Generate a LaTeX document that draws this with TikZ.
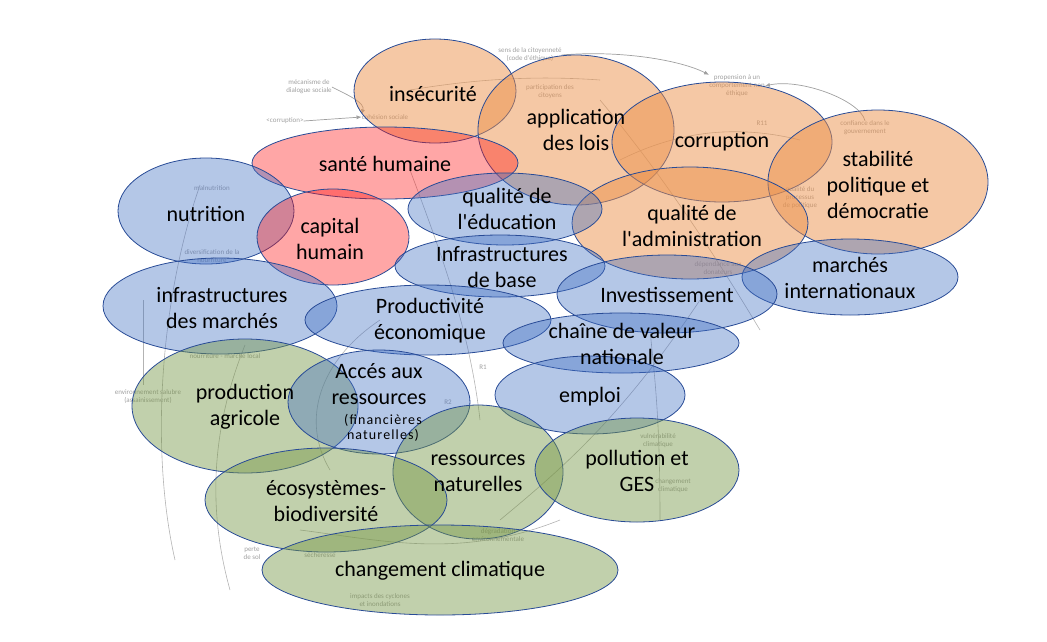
\documentclass[tikz,border=0pt]{standalone}
\usepackage{fontspec}
\setmainfont{Carlito}
\usetikzlibrary{arrows.meta}
\definecolor{orA}{RGB}{235,145,75}
\definecolor{blA}{RGB}{68,114,196}
\definecolor{rdA}{RGB}{255,20,20}
\definecolor{grA}{RGB}{118,150,70}
\definecolor{edgeA}{RGB}{40,75,150}
\definecolor{bgA}{RGB}{160,160,160}
\newcommand{\qs}{\textquotesingle}
\tikzset{
  zone/.style={draw=edgeA,line width=0.8pt,fill opacity=0.5},
  zor/.style={zone,fill=orA,fill opacity=0.5},
  zbl/.style={zone,fill=blA,fill opacity=0.4},
  zrd/.style={zone,fill=rdA,fill opacity=0.38},
  zgr/.style={zone,fill=grA,fill opacity=0.45},
  lab/.style={font=\fontsize{22}{26}\selectfont,align=center,text=black,inner sep=0pt},
  sml/.style={font=\fontsize{14}{15}\selectfont\addfontfeature{LetterSpace=8},align=center,text=black,inner sep=0pt},
  bgt/.style={font=\fontsize{7}{8}\selectfont,text=bgA,align=center,inner sep=0pt},
  bgl/.style={draw=bgA,line width=0.7pt,-{Latex[length=5pt,width=4pt]}},
  bgc/.style={draw=bgA!80,line width=0.6pt}
}
\begin{document}
\begin{tikzpicture}[x=1pt,y=-1pt]
\useasboundingbox (0,0) rectangle (1047,641);
% faint background causal diagram
\node[bgt] (t1) at (530,55) {sens de la citoyenneté\\(code d\qs éthique)};
\node[bgt] (t2) at (737,86) {propension à un\\comportement non\\éthique};
\node[bgt] (t3) at (309,87) {mécanisme de\\dialogue sociale};
\node[bgt] (t4) at (285,121) {<corruption>};
\node[bgt] (t5) at (385,117) {cohésion sociale};
\node[bgt] (t6) at (865,128) {confiance dans le\\gouvernement};
\node[bgt] (t7) at (148,397) {environnement salubre\\(assainissement)};
\node[bgt] (t8) at (380,600) {impacts des cyclones\\et inondations};
\node[bgt] (t9) at (252,553) {perte\\de sol};
\node[bgt] (t10) at (658,441) {vulnérabilité\\climatique};
\node[bgt] (t11) at (673,486) {changement\\climatique};
\node[bgt] (t12) at (212,188) {malnutrition};
\node[bgt] (t13) at (212,256) {diversification de la\\nourriture};
\node[bgt] (t14) at (225,356) {nourriture - marché local};
\node[bgt] (t15) at (550,92) {participation des\\citoyens};
\node[bgt] (t16) at (718,268) {dépendance aux\\donateurs};
\node[bgt] (t17) at (498,535) {dégradation\\environnementale};
\node[bgt] (t18) at (448,402) {R2};
\node[bgt] (t19) at (483,367) {R1};
\node[bgt] (t20) at (320,555) {sécheresse};
\node[bgt] (t21) at (762,123) {R11};
\node[bgt] (t24) at (800,198) {qualité du\\processus\\de politique};
\draw[bgl] (t1.east) .. controls (620,50) and (680,60) .. (t2.north west);
\draw[bgl] (t6.north) .. controls (860,100) and (800,78) .. (t2.east);
\draw[bgl] (t3.east) .. controls (350,96) and (365,103) .. (t5.north west);
\draw[bgl] (t4.east) -- (t5.west);
\draw[bgc] (143,300) -- (143,385);
\draw[bgc] (175,560) .. controls (150,450) and (160,300) .. (200,185);
\draw[bgc] (230,590) .. controls (205,500) and (215,420) .. (245,345);
\draw[bgc] (410,170) .. controls (440,250) and (470,330) .. (480,420);
\draw[bgc] (500,520) .. controls (560,470) and (620,420) .. (700,300);
\draw[bgc] (600,100) .. controls (650,160) and (700,230) .. (760,330);
\draw[bgc] (300,530) .. controls (380,540) and (460,560) .. (560,520);
\draw[bgc] (330,470) .. controls (300,420) and (320,360) .. (380,320);
\draw[bgc] (620,160) .. controls (660,140) and (720,120) .. (800,140);
\draw[bgc] (410,90) .. controls (470,80) and (530,75) .. (600,80);
\draw[bgc] (650,330) .. controls (655,380) and (660,420) .. (660,520);
% ellipses
\path[zor] (435,91) ellipse [x radius=81,y radius=52];
\path[zor] (576,130) ellipse [x radius=98,y radius=75];
\path[zor] (722,142) ellipse [x radius=110,y radius=60];
\path[zor] (878,182) ellipse [x radius=110,y radius=72];
\path[zor] (690,223) ellipse [x radius=118,y radius=56];
\path[zrd] (385,163) ellipse [x radius=133,y radius=36];
\path[zbl] (206,211) ellipse [x radius=88,y radius=53];
\path[zrd] (333,237) ellipse [x radius=76,y radius=48];
\path[zbl] (505,209) ellipse [x radius=97,y radius=36];
\path[zbl] (500,266) ellipse [x radius=105,y radius=31];
\path[zbl] (850,277) ellipse [x radius=108,y radius=38];
\path[zbl] (667,294) ellipse [x radius=110,y radius=39];
\path[zbl] (220,306) ellipse [x radius=117,y radius=48];
\path[zbl] (428,320) ellipse [x radius=123,y radius=35];
\path[zbl] (621,343) ellipse [x radius=118,y radius=30];
\path[zbl] (590,395) ellipse [x radius=95,y radius=39];
\path[zgr] (245,406) ellipse [x radius=113,y radius=67];
\path[zbl] (379,402) ellipse [x radius=91,y radius=52];
\path[zgr] (478,472) ellipse [x radius=85,y radius=67];
\path[zgr] (637,470) ellipse [x radius=102,y radius=52];
\path[zgr] (326,500) ellipse [x radius=121,y radius=52];
\path[zgr] (440,570) ellipse [x radius=178,y radius=45];
% labels
\node[lab] (insec) at (433,94) {insécurité};
\node[lab] (applic) at (576,130) {application\\des lois};
\node[lab] (corr) at (722,142) {corruption};
\node[lab] (stab) at (878,185) {stabilité\\politique et\\démocratie};
\node[lab] (admin) at (692,226) {qualité de\\l\qs administration};
\node[lab] (sante) at (385,164) {santé humaine};
\node[lab] (nutri) at (206,214) {nutrition};
\node[lab] (capit) at (330,239) {capital\\humain};
\node[lab] (educ) at (507,209) {qualité de\\l\qs éducation};
\node[lab] (infb) at (502,267) {Infrastructures\\de base};
\node[lab] (march) at (850,278) {marchés\\internationaux};
\node[lab] (invest) at (667,295) {Investissement};
\node[lab] (infm) at (222,308) {infrastructures\\des marchés};
\node[lab] (prod) at (430,321) {Productivité\\économique};
\node[lab] (chain) at (622,344) {chaîne de valeur\\nationale};
\node[lab] (empl) at (590,397) {emploi};
\node[lab] (agri) at (245,407) {production\\agricole};
\node[lab] (acces) at (379,384) {Accés aux\\ressources};
\node[sml] (accsub) at (383,428) {(financières\\naturelles)};
\node[lab] (resn) at (478,473) {ressources\\naturelles};
\node[lab] (poll) at (637,471) {pollution et\\GES};
\node[lab] (ecos) at (326,501) {écosystèmes-\\biodiversité};
\node[lab] (clim) at (440,571) {changement climatique};
\end{tikzpicture}
\end{document}
